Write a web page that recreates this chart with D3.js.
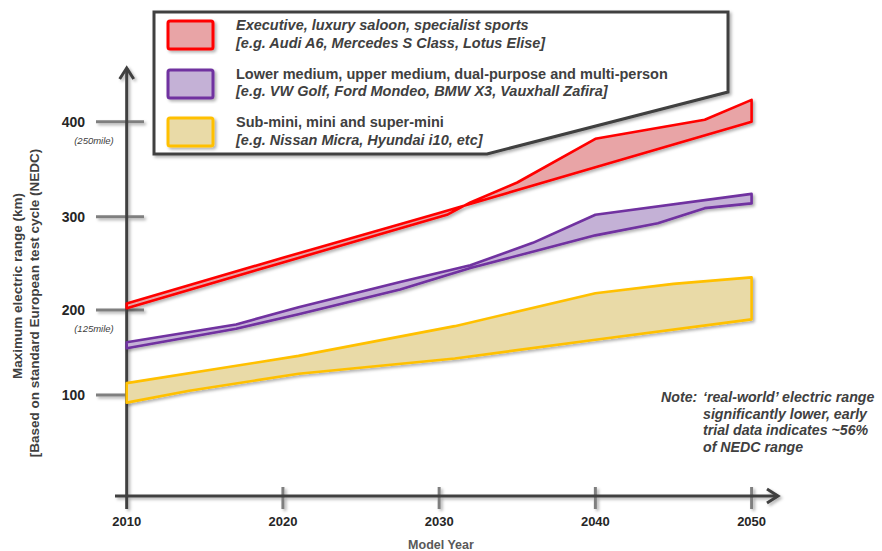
<!DOCTYPE html>
<html>
<head>
<meta charset="utf-8">
<script src="https://cdn.jsdelivr.net/npm/d3@7"></script>
<style>
  html, body { margin: 0; padding: 0; background: #fff; }
  svg { display: block; font-family: "Liberation Sans", Arial, sans-serif; }
</style>
</head>
<body>
<svg id="chart" width="882" height="551"></svg>
<script>
// ---- data -------------------------------------------------------------
const yearTicks = [2010, 2020, 2030, 2040, 2050];
const rangeTicks = [100, 200, 300, 400];
const mileTickValues = [400, 200];
const mileLabels = ["(250mile)", "(125mile)"];

// Executive, luxury saloon, specialist sports
const execEdgeAYears = [2010, 2020, 2030, 2040, 2050];
const execEdgeARange = [207, 256, 304, 352, 400];
const execEdgeBYears = [2010, 2020, 2030.5, 2032, 2035, 2040, 2047, 2050];
const execEdgeBRange = [202, 251, 302, 315, 336, 382, 402, 423];

// Lower medium, upper medium, dual-purpose and multi-person
const midEdgeAYears = [2010, 2017, 2021, 2027.5, 2032, 2036, 2040, 2050];
const midEdgeARange = [162, 183, 203, 230, 248, 272, 302, 324];
const midEdgeBYears = [2010, 2017, 2021, 2027.5, 2032, 2040, 2044, 2047, 2050];
const midEdgeBRange = [155, 178, 195, 222, 245, 280, 293, 309, 314];

// Sub-mini, mini and super-mini
const smallEdgeAYears = [2010, 2021, 2031, 2040, 2045, 2050];
const smallEdgeARange = [114, 146, 181, 218, 228, 235];
const smallEdgeBYears = [2010, 2014, 2021, 2031, 2040, 2050];
const smallEdgeBRange = [91, 105, 125, 143, 165, 189];

const segmentNames = [
  ["Executive, luxury saloon, specialist sports", "[e.g. Audi A6, Mercedes S Class, Lotus Elise]"],
  ["Lower medium, upper medium, dual-purpose and multi-person", "[e.g. VW Golf, Ford Mondeo, BMW X3, Vauxhall Zafira]"],
  ["Sub-mini, mini and super-mini", "[e.g. Nissan Micra, Hyundai i10, etc]"]
];
const segmentStroke = ["#FF0000", "#7030A0", "#FFC000"];
const segmentFill = ["#E8A4A6", "#C4B1D6", "#E9DAA7"];

const noteLines = ["\u2018real-world\u2019 electric range", "significantly lower, early",
                   "trial data indicates ~56%", "of NEDC range"];

// ---- scales -----------------------------------------------------------
const x = d3.scaleLinear().domain([2010, 2050]).range([126.7, 751.6]);
const y = d3.scaleLinear().domain([100, 200, 300, 400]).range([395, 310, 216.7, 121.7]);

const svg = d3.select("#chart");
const defs = svg.append("defs");
const f = defs.append("filter").attr("id", "shadow")
  .attr("x", "-10%").attr("y", "-10%").attr("width", "130%").attr("height", "130%");
f.append("feDropShadow").attr("dx", 2).attr("dy", 2).attr("stdDeviation", 1.4)
  .attr("flood-color", "#000").attr("flood-opacity", 0.3);

const AXIS = "#404040";

// ---- axes -------------------------------------------------------------
const axes = svg.append("g").attr("filter", "url(#shadow)");

// range ticks (long grey bars across the vertical axis)
axes.selectAll("line.yt").data(rangeTicks).join("line")
  .attr("x1", 96).attr("x2", 144)
  .attr("y1", d => y(d)).attr("y2", d => y(d))
  .attr("stroke", "#7F7F7F").attr("stroke-width", 3);

// year ticks
axes.selectAll("line.xt").data(yearTicks.slice(1)).join("line")
  .attr("x1", d => x(d)).attr("x2", d => x(d))
  .attr("y1", 487).attr("y2", 509)
  .attr("stroke", "#7F7F7F").attr("stroke-width", 3);

// main axis lines with open arrowheads
axes.append("line").attr("x1", x(2010)).attr("x2", x(2010)).attr("y1", 509).attr("y2", 68)
  .attr("stroke", AXIS).attr("stroke-width", 3);
axes.append("path").attr("d", `M${x(2010) - 7},79 L${x(2010)},68 L${x(2010) + 7},79`)
  .attr("fill", "none").attr("stroke", AXIS).attr("stroke-width", 3).attr("stroke-linejoin", "miter");
axes.append("line").attr("x1", 115).attr("x2", 778).attr("y1", 496).attr("y2", 496)
  .attr("stroke", AXIS).attr("stroke-width", 3);
axes.append("path").attr("d", "M767,489 L778,496 L767,503")
  .attr("fill", "none").attr("stroke", AXIS).attr("stroke-width", 3);

// tick labels
svg.selectAll("text.yl").data(rangeTicks).join("text")
  .attr("x", 85).attr("y", d => y(d) + 5)
  .attr("text-anchor", "end").attr("font-size", 14).attr("font-weight", "bold")
  .attr("fill", "#262626").text(d => d);

svg.selectAll("text.ml").data(mileTickValues).join("text")
  .attr("x", 94).attr("y", d => y(d) + 22)
  .attr("text-anchor", "middle").attr("font-size", 9.5).attr("font-style", "italic")
  .attr("fill", "#404040").text((d, i) => mileLabels[i]);

svg.selectAll("text.xl").data(yearTicks).join("text")
  .attr("x", d => x(d)).attr("y", 526)
  .attr("text-anchor", "middle").attr("font-size", 13).attr("font-weight", "bold")
  .attr("fill", "#262626").text(d => d);

svg.append("text").attr("x", 441).attr("y", 549).attr("text-anchor", "middle")
  .attr("font-size", 12.5).attr("font-weight", "bold").attr("fill", "#595959").text("Model Year");

svg.append("text").attr("transform", "translate(22,286) rotate(-90)")
  .attr("text-anchor", "middle").attr("font-size", 13.5).attr("font-weight", "bold")
  .attr("fill", "#404040").text("Maximum electric range (km)");
svg.append("text").attr("transform", "translate(39,303) rotate(-90)")
  .attr("text-anchor", "middle").attr("font-size", 13.5).attr("font-weight", "bold")
  .attr("fill", "#404040").text("[Based on standard European test cycle (NEDC)");

// ---- range bands ------------------------------------------------------
const line = d3.line().x(d => x(d[0])).y(d => y(d[1]));
function bandPath(yearsA, rangeA, yearsB, rangeB) {
  const a = yearsA.map((yr, i) => [yr, rangeA[i]]);
  const b = yearsB.map((yr, i) => [yr, rangeB[i]]).reverse();
  return line(a.concat(b)) + "Z";
}
const bands = [
  bandPath(execEdgeAYears, execEdgeARange, execEdgeBYears, execEdgeBRange),
  bandPath(midEdgeAYears, midEdgeARange, midEdgeBYears, midEdgeBRange),
  bandPath(smallEdgeAYears, smallEdgeARange, smallEdgeBYears, smallEdgeBRange)
];
svg.append("g").attr("filter", "url(#shadow)")
  .selectAll("path").data(bands).join("path")
  .attr("d", d => d)
  .attr("fill", (d, i) => segmentFill[i])
  .attr("stroke", (d, i) => segmentStroke[i])
  .attr("stroke-width", 2.6).attr("stroke-linejoin", "round");

// ---- legend -----------------------------------------------------------
svg.append("path")
  .attr("d", "M154,12 L728,12 L728,92 L487,154 L154,154 Z")
  .attr("fill", "#fff").attr("stroke", AXIS).attr("stroke-width", 3)
  .attr("filter", "url(#shadow)");

const rowY = [21, 70, 118];
const lineCenters = [[24, 42], [73, 90], [121, 139]];
const legend = svg.append("g");
legend.selectAll("rect").data(segmentNames).join("rect")
  .attr("x", 168).attr("y", (d, i) => rowY[i]).attr("width", 45).attr("height", 28).attr("rx", 2)
  .attr("fill", (d, i) => segmentFill[i]).attr("stroke", (d, i) => segmentStroke[i])
  .attr("stroke-width", 3).attr("filter", "url(#shadow)");
segmentNames.forEach((names, i) => {
  names.forEach((t, j) => {
    legend.append("text").attr("x", 236).attr("y", lineCenters[i][j] + 5.5)
      .attr("font-size", 14.5).attr("font-weight", "bold")
      .attr("font-style", (i === 0 || j === 1) ? "italic" : "normal")
      .attr("fill", "#404040").text(t);
  });
});

// ---- note -------------------------------------------------------------
const note = svg.append("g").attr("font-size", 14.2).attr("font-weight", "bold")
  .attr("font-style", "italic").attr("fill", "#404040");
note.append("text").attr("x", 661).attr("y", 402).text("Note:");
note.selectAll("text.n").data(noteLines).join("text")
  .attr("x", 703).attr("y", (d, i) => 402 + i * 16.5).text(d => d);
</script>
</body>
</html>
